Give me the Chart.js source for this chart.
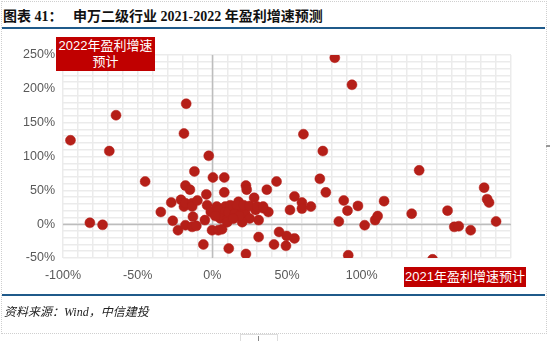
<!DOCTYPE html>
<html>
<head>
<meta charset="utf-8">
<script src="https://cdn.jsdelivr.net/npm/chart.js@4.4.0/dist/chart.umd.min.js"></script>
<style>
  html, body { margin:0; padding:0; background:#fff; }
  #wrap { position:relative; width:550px; height:341px; overflow:hidden; background:#fff; }
  #frame { position:absolute; left:1px; top:1px; width:544px; height:331px; border:1px dotted #cfcfcf; }
  #title { position:absolute; left:3px; top:5px; font-family:"Liberation Serif","Noto Sans CJK SC",serif; font-weight:bold; font-size:14px; color:#111; white-space:pre; }
  #topline { position:absolute; left:2px; top:27px; width:543px; height:2px; background:#1f5a8a; }
  #botline { position:absolute; left:2px; top:294px; width:543px; height:2px; background:#1f5a8a; }
  #source { position:absolute; left:4px; top:302px; font-family:"Liberation Serif","Noto Sans CJK SC",serif; font-style:italic; font-size:12px; color:#222; }
  canvas { position:absolute; left:0; top:0; }
  .tag { position:absolute; background:#c00000; color:#fff; font-family:"Liberation Sans","Noto Sans CJK SC",sans-serif; font-size:13px; text-align:center; line-height:16px; }
  #tag22 { left:56px; top:37px; width:99px; height:34px; padding-top:1px; box-sizing:border-box; }
  #tag21 { left:404px; top:267px; width:122px; height:20px; line-height:20px; }
  #nub { position:absolute; left:240px; top:334px; width:38px; height:8px; border:1px solid #ddd; border-bottom:none; box-sizing:border-box; }
  #nub2 { position:absolute; left:258px; top:336px; width:1px; height:5px; background:#888; }
  #sidenub { position:absolute; left:546px; top:145px; width:4px; height:2px; background:#999; }
</style>
</head>
<body>
<div id="wrap">
  <div id="frame"></div>
  <div id="title">图表 41：   申万二级行业 2021-2022 年盈利增速预测</div>
  <div id="topline"></div>
  <canvas id="c" width="550" height="341"></canvas>
  <div class="tag" id="tag22">2022年盈利增速<br>预计</div>
  <div class="tag" id="tag21">2021年盈利增速预计</div>
  <div id="botline"></div>
  <div id="source">资料来源：Wind，中信建投</div>
  <div id="nub"></div><div id="nub2"></div><div id="sidenub"></div>
</div>
<script>
// 2021 earnings growth forecast (%), x values
const growth2021 = [
  -95, -82, -73.5, -69, -64.5, -45, -34.5, -27.5, -26.5, -23, -21, -19, -17.5, -18, -15, -19, -18, -13.5, -13.5, -10, -12,
  -18, -13.5, -10.7, -13, -5, -6, -4, -3.5, -2.4, -1,
  0.4, 8, 8, 3, 8.7, 12, 4, 8.7, 5.3, 9.8, -0.2, 4, 6.5, 11, 10, 11, 14, 18.7, 22, 25, 31, 29, 34, 37.5,
  20, 17.5, 16.5, 21, 25, 30, 34, 22.5, 23, 28, 36.5, 43, 22.5, 31, 15, 18, 14, 2,
  55, 60, 52, 60, 66, 44.7, 49.8, 55, 41.3, 49.3, 61, 72, 74, 76, 82, 84.7, 88, 90.5, 91, 93.5, 97.5, 102, 109, 110.7, 115,
  133.5, 138.5, 147.5, 157.5, 162, 165, 173, 182, 184, 185.3, 190
];
// 2022 earnings growth forecast (%), y values
const growth2022 = [
  124, 2, -1, 108, 161, 63, 18, 32, 5, -9, 36, 134, 178, 57, 51, 26, 31, 31, 26, 35, 78,
  -1.5, -4, -2.5, 11, 6, -30, 44, 28, 101, 18,
  69, 69, 47, 26, 26, 28, 21, 18, 8.5, 6, -9, -9, -7.5, -36, 3, 18, 26, 21, 16, 8.5, 6, 21, 23.5, 18,
  3, 33, 28, 28, 27, 26, 26, 57, 51, 39, 51, 63, -44, -19, 15, 12, 8, 12,
  41, 32, 21, 23, 26, -11.5, -17.5, -21, -30, -32, 133, 67, 108, 47, 246, 4, 35, 20, -46, 206, 27, -1.5, 6, 12, 34,
  15.5, 79.5, -52, 20, -4, -3, -9, 54, 37, 32, 4
];
const xTickLabels = [-100, -50, 0, 50, 100];
const yTickLabels = [-50, 0, 50, 100, 150, 200, 250];

const points = growth2021.map((x, i) => ({ x: x, y: growth2022[i] }));

// draw the two zero axes solidly over the minor grid
const zeroAxes = {
  id: 'zeroAxes',
  beforeDatasetsDraw(chart) {
    const { ctx, chartArea: a, scales: { x, y } } = chart;
    const x0 = Math.round(x.getPixelForValue(0)) + 0.5;
    const y0 = Math.round(y.getPixelForValue(0)) + 0.5;
    ctx.save();
    ctx.strokeStyle = '#bdbdbd';
    ctx.lineWidth = 1.5;
    ctx.beginPath();
    ctx.moveTo(a.left, y0); ctx.lineTo(a.right, y0);
    ctx.moveTo(x0, a.top); ctx.lineTo(x0, a.bottom);
    ctx.stroke();
    ctx.restore();
  }
};

new Chart(document.getElementById('c'), {
  type: 'scatter',
  data: {
    datasets: [{
      data: points,
      backgroundColor: '#b51f18',
      borderColor: '#b51f18',
      borderWidth: 0.5,
      pointRadius: 5,
      pointHoverRadius: 5
    }]
  },
  plugins: [zeroAxes],
  options: {
    responsive: false,
    animation: false,
    devicePixelRatio: 1,
    layout: { padding: { left: 0, top: 55, right: 39, bottom: 53 } },
    plugins: { legend: { display: false }, tooltip: { enabled: false } },
    scales: {
      x: {
        type: 'linear', min: -100, max: 200,
        afterFit: s => { s.height = 30; },
        border: { display: false },
        grid: { color: '#ebebeb', lineWidth: 1.5, drawTicks: false },
        ticks: {
          stepSize: 10, autoSkip: false, maxRotation: 0, padding: 10,
          color: '#595959', font: { family: 'Liberation Sans, Arial, sans-serif', size: 12.5 },
          callback: v => xTickLabels.includes(v) ? v + '%' : ''
        }
      },
      y: {
        type: 'linear', min: -50, max: 250,
        afterFit: s => { s.width = 63; },
        border: { display: false },
        grid: { color: '#ebebeb', lineWidth: 1.5, drawTicks: false },
        ticks: {
          stepSize: 10, autoSkip: false, padding: 8,
          color: '#595959', font: { family: 'Liberation Sans, Arial, sans-serif', size: 12.5 },
          callback: v => yTickLabels.includes(v) ? v + '%' : ''
        }
      }
    }
  }
});
</script>
</body>
</html>
